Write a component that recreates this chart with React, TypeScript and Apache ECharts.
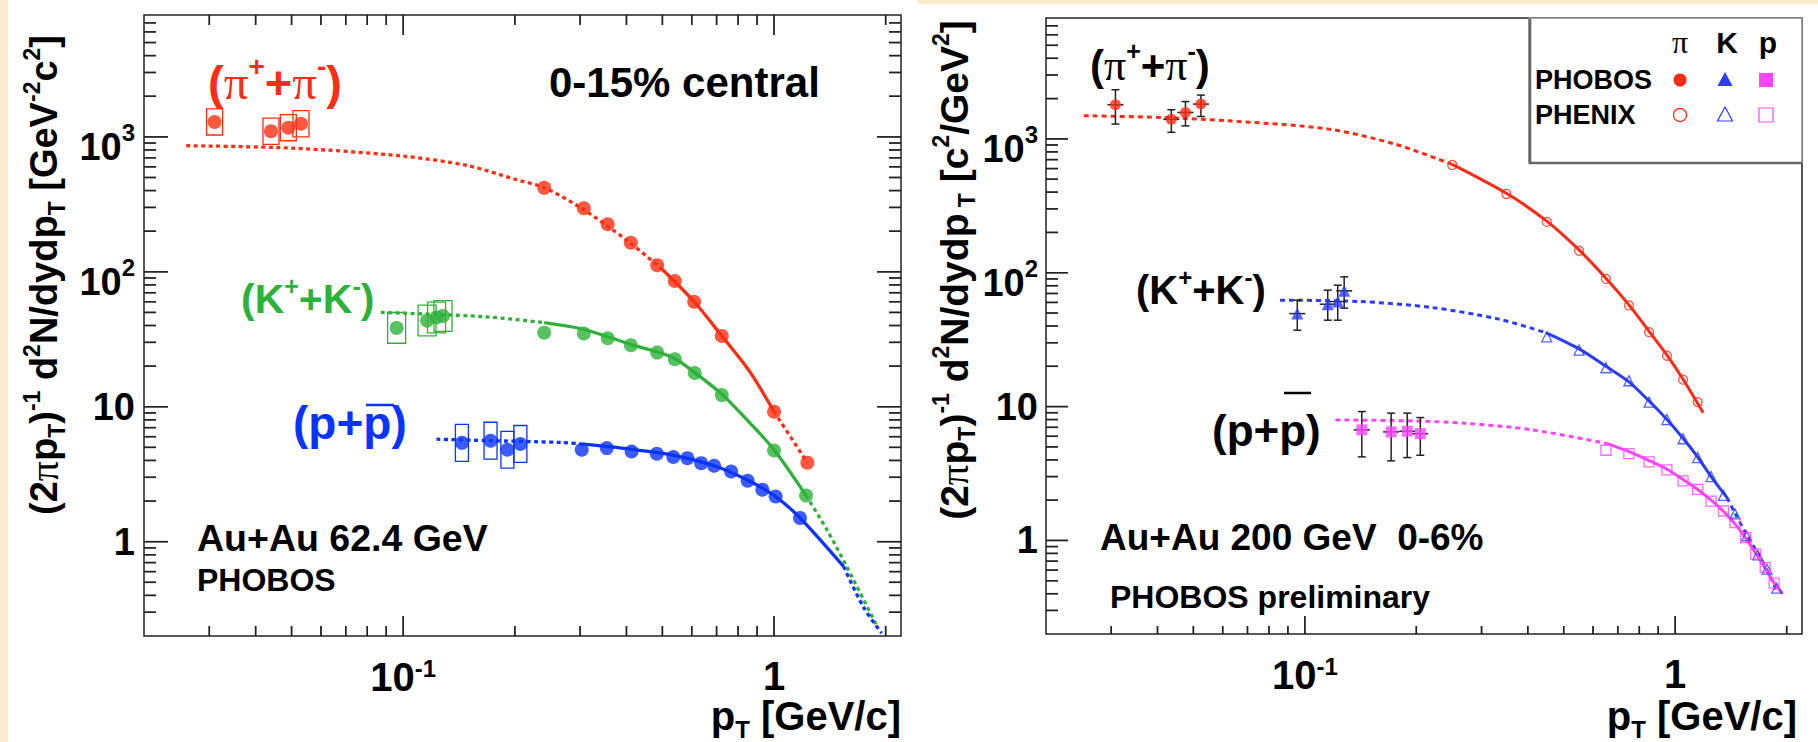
import React, { useEffect, useRef } from "react";
import * as echarts from "echarts";

const FONT = "'Liberation Sans', Arial, Helvetica, sans-serif";
const SERIF = "'Liberation Serif', 'Times New Roman', serif";

// ---------- axis ranges (both panels) ----------
const X_MIN = 0.02;
const X_MAX = 2.2;
const Y_MIN = 0.2;
const Y_MAX = 8000;

// ---------- LEFT PANEL: PHOBOS Au+Au 62.4 GeV, 0-15% central ----------
const piLowX = [0.031, 0.044, 0.049, 0.053];
const piLowY = [1290, 1100, 1170, 1250];
const piLowSys = [0.25, 0.25, 0.25, 0.25];
const kLowX = [0.096, 0.116, 0.123, 0.128];
const kLowY = [38.4, 43.5, 45.9, 47.1];
const kLowSys = [0.3, 0.3, 0.3, 0.3];
const pLowX = [0.144, 0.172, 0.191, 0.207];
const pLowY = [5.4, 5.6, 4.8, 5.3];
const pLowSys = [0.37, 0.37, 0.37, 0.37];

const piHiX = [0.24, 0.307, 0.356, 0.411, 0.484, 0.54, 0.609, 0.723, 1.0, 1.23];
const piHiY = [419, 296, 225, 164, 112, 85.5, 60, 33.5, 9.2, 3.85];
const kHiX = [0.24, 0.307, 0.356, 0.411, 0.484, 0.54, 0.611, 0.723, 1.0, 1.22];
const kHiY = [35.4, 34.9, 32.2, 28.6, 25.2, 22.5, 17.8, 12.2, 4.74, 2.2];
const pHiX = [0.303, 0.354, 0.413, 0.483, 0.535, 0.584, 0.636, 0.689, 0.766, 0.849, 0.93, 1.01, 1.175];
const pHiY = [4.8, 4.94, 4.66, 4.48, 4.24, 4.16, 3.82, 3.65, 3.31, 2.83, 2.43, 2.16, 1.5];

// fitted curves
const piFitL_dot1 = [[0.026, 860], [0.05, 825], [0.1, 720], [0.15, 610], [0.2, 485], [0.24, 420], [0.3, 300], [0.4, 172], [0.5, 104]];
const piFitL_solid = [[0.5, 104], [0.609, 60], [0.723, 33.5], [0.86, 18.2], [1.0, 9.2]];
const piFitL_dot2 = [[1.0, 9.2], [1.23, 3.85]];
const kFitL_dot1 = [[0.087, 50], [0.165, 46.5], [0.24, 42]];
const kFitL_solid = [[0.24, 42], [0.3, 38], [0.356, 33], [0.41, 29], [0.484, 25.5], [0.54, 22.8], [0.61, 18], [0.723, 12.4], [0.86, 7.6], [1.0, 4.8], [1.22, 2.2]];
const kFitL_dot2 = [[1.22, 2.2], [1.39, 1.22], [1.57, 0.655], [1.89, 0.24]];
const pFitL_dot1 = [[0.123, 5.75], [0.165, 5.62], [0.27, 5.43], [0.3, 5.3]];
const pFitL_solid = [[0.3, 5.3], [0.41, 4.85], [0.54, 4.35], [0.69, 3.65], [0.85, 2.85], [1.01, 2.16], [1.175, 1.5], [1.54, 0.655]];
const pFitL_dot2 = [[1.54, 0.655], [1.74, 0.33], [1.95, 0.21]];

// ---------- RIGHT PANEL: Au+Au 200 GeV, 0-6% ----------
const piPhobosX = [0.0308, 0.0436, 0.0476, 0.0524];
const piPhobosY = [1800, 1400, 1575, 1820];
const piPhobosLo = [1290, 1120, 1250, 1470];
const piPhobosHi = [2330, 1650, 1900, 2125];
const kPhobosX = [0.0954, 0.1153, 0.1227, 0.1277];
const kPhobosY = [49.5, 58.2, 60.9, 73.2];
const kPhobosLo = [37.2, 44.2, 44.2, 54.4];
const kPhobosHi = [62.4, 74.1, 80.7, 93.2];
const pPhobosX = [0.1425, 0.171, 0.189, 0.205];
const pPhobosY = [6.7, 6.47, 6.55, 6.28];
const pPhobosLo = [4.21, 3.93, 4.16, 4.33];
const pPhobosHi = [9.18, 8.93, 8.93, 8.28];

const piPhenixX = [0.25, 0.35, 0.45, 0.55, 0.65, 0.75, 0.85, 0.95, 1.05, 1.15];
const piPhenixY = [638, 388, 240, 146, 90, 57, 36, 24, 15.9, 10.8];
const kPhenixX = [0.45, 0.55, 0.65, 0.75, 0.85, 0.95, 1.05, 1.15, 1.25, 1.35, 1.45, 1.56, 1.67, 1.77, 1.88];
const kPhenixY = [33.2, 26.4, 19.5, 15.6, 10.8, 8.0, 5.75, 4.16, 3.0, 2.17, 1.58, 1.08, 0.78, 0.61, 0.44];
const pPhenixX = [0.65, 0.75, 0.85, 0.95, 1.05, 1.15, 1.25, 1.35, 1.45, 1.55, 1.65, 1.75, 1.85];
const pPhenixY = [4.72, 4.46, 3.86, 3.37, 2.79, 2.41, 1.97, 1.66, 1.36, 1.05, 0.79, 0.63, 0.48];

const piFitR_dot = [[0.0253, 1490], [0.041, 1445], [0.062, 1365], [0.116, 1183], [0.175, 914], [0.25, 645]];
const piFitR_solid = [[0.25, 645], [0.35, 392], [0.45, 243], [0.55, 148], [0.65, 91], [0.75, 57.5], [0.85, 36.5], [0.95, 24.2], [1.05, 16], [1.19, 9.0]];
const kFitR_dot1 = [[0.0857, 62.4], [0.14, 61], [0.22, 55], [0.334, 45], [0.447, 35.7]];
const kFitR_solid = [[0.447, 35.7], [0.55, 27], [0.65, 20], [0.75, 15.3], [0.85, 11], [0.95, 8.0], [1.05, 5.8], [1.15, 4.2], [1.25, 3.0], [1.38, 2.09]];
const kFitR_dot2 = [[1.38, 2.09], [1.45, 1.6], [1.56, 1.1], [1.68, 0.78], [1.77, 0.6], [1.88, 0.42]];
const pFitR_dot = [[0.121, 7.95], [0.2, 7.8], [0.271, 7.5], [0.411, 6.7], [0.656, 5.29]];
const pFitR_solid = [[0.656, 5.29], [0.75, 4.6], [0.85, 3.95], [0.95, 3.4], [1.05, 2.85], [1.15, 2.4], [1.25, 2.0], [1.35, 1.65], [1.45, 1.33], [1.55, 1.04], [1.65, 0.8], [1.75, 0.62], [1.85, 0.48], [1.95, 0.4]];

// ---------- colours ----------
const RED_L = "#FF2E12";
const GREEN_L = "#2EB13A";
const BLUE_L = "#0A33FF";
const RED_R = "#FF2A14";
const BLUE_R = "#2B3CF5";
const MAG_R = "#FF44FF";
const CREAM = "#FBE9CC";
const AXIS = "#222";

// ---------- tick values (ROOT style: decades + 2..9 minors) ----------
const MANTISSAS = [1, 2, 3, 4, 5, 6, 7, 8, 9];
const X_DECADES = [0.01, 0.1, 1];
const Y_DECADES = [0.1, 1, 10, 100, 1000];
function tickList(decades: number[], min: number, max: number, major: boolean) {
  const out: number[] = [];
  decades.forEach((d) => {
    MANTISSAS.forEach((m) => {
      if ((m === 1) !== major) return;
      const v = Math.round(m * d * 1e6) / 1e6;
      if (v > min * 1.0001 && v < max * 0.9999) out.push(v);
    });
  });
  return out;
}
const X_MAJOR = tickList(X_DECADES, X_MIN, X_MAX, true);
const X_MINOR = tickList(X_DECADES, X_MIN, X_MAX, false);
const Y_MAJOR = tickList(Y_DECADES, Y_MIN, Y_MAX, true);
const Y_MINOR = tickList(Y_DECADES, Y_MIN, Y_MAX, false);

// ---------- grid rectangles ----------
const GRIDS = [
  { left: 144, top: 15, width: 757, height: 621 },
  { left: 1046, top: 18, width: 756, height: 616 },
];

// ---------- helpers ----------
const zip = (xs: number[], ys: number[]) => xs.map((x, i) => [x, ys[i]]);

function lineS(gi: number, data: number[][], color: string, dotted: boolean, width = 3.3, dash = [4, 3.5]) {
  return {
    type: "line",
    xAxisIndex: gi,
    yAxisIndex: gi,
    data,
    showSymbol: false,
    symbol: "none",
    smooth: 0.3,
    silent: true,
    z: 2,
    lineStyle: { color, width, type: dotted ? dash : "solid", cap: "butt" },
  };
}

function scat(gi: number, xs: number[], ys: number[], symbol: string, size: number, color: string, hollow = false) {
  return {
    type: "scatter",
    xAxisIndex: gi,
    yAxisIndex: gi,
    data: zip(xs, ys),
    symbol,
    symbolSize: size,
    silent: true,
    z: 5,
    itemStyle: hollow
      ? { color: "rgba(255,255,255,0)", borderColor: color, borderWidth: 1.3 }
      : { color },
  };
}

// tick marks: custom series, one item per tick, placed through the axis scales
// item = [x, y, major(1/0), side] ; side 0 bottom, 1 top, 2 left, 3 right
function tickSeries(gi: number, xLen: number[], yLen: number[], mirror: boolean) {
  const data: number[][] = [];
  X_MAJOR.forEach((v) => { data.push([v, Y_MIN, 1, 0]); if (mirror) data.push([v, Y_MAX, 1, 1]); });
  X_MINOR.forEach((v) => { data.push([v, Y_MIN, 0, 0]); if (mirror) data.push([v, Y_MAX, 0, 1]); });
  Y_MAJOR.forEach((v) => { data.push([X_MIN, v, 1, 2]); if (mirror) data.push([X_MAX, v, 1, 3]); });
  Y_MINOR.forEach((v) => { data.push([X_MIN, v, 0, 2]); if (mirror) data.push([X_MAX, v, 0, 3]); });
  return {
    type: "custom",
    xAxisIndex: gi,
    yAxisIndex: gi,
    silent: true,
    z: 4,
    data,
    renderItem: (params: any, api: any) => {
      const p = api.coord([api.value(0), api.value(1)]);
      const maj = api.value(2) === 1;
      const side = api.value(3);
      const st = { stroke: AXIS, lineWidth: 1.5 };
      let shape;
      if (side === 0) { const L = maj ? xLen[0] : xLen[1]; shape = { x1: p[0], y1: p[1], x2: p[0], y2: p[1] - L }; }
      else if (side === 1) { const L = maj ? xLen[0] : xLen[1]; shape = { x1: p[0], y1: p[1], x2: p[0], y2: p[1] + L }; }
      else if (side === 2) { const L = maj ? yLen[0] : yLen[1]; shape = { x1: p[0], y1: p[1], x2: p[0] + L, y2: p[1] }; }
      else { const L = maj ? yLen[0] : yLen[1]; shape = { x1: p[0], y1: p[1], x2: p[0] - L, y2: p[1] }; }
      return { type: "group", children: [{ type: "line", shape, style: st }] };
    },
  };
}

// same tick marks as thin rect symbols (second route, identical positions)
function tickMarks(gi: number, data: number[][], size: number[], offset: number[]) {
  return {
    type: "scatter",
    xAxisIndex: gi,
    yAxisIndex: gi,
    data,
    symbol: "rect",
    symbolSize: size,
    symbolOffset: offset,
    silent: true,
    z: 3,
    itemStyle: { color: AXIS },
  };
}

function tickSet(gi: number, xLen: number[], yLen: number[], mirror: boolean) {
  const w = 1.5;
  const out: any[] = [
    tickMarks(gi, X_MAJOR.map((v) => [v, Y_MIN]), [w, xLen[0]], [0, -xLen[0] / 2]),
    tickMarks(gi, X_MINOR.map((v) => [v, Y_MIN]), [w, xLen[1]], [0, -xLen[1] / 2]),
    tickMarks(gi, Y_MAJOR.map((v) => [X_MIN, v]), [yLen[0], w], [yLen[0] / 2, 0]),
    tickMarks(gi, Y_MINOR.map((v) => [X_MIN, v]), [yLen[1], w], [yLen[1] / 2, 0]),
  ];
  if (mirror) {
    out.push(
      tickMarks(gi, X_MAJOR.map((v) => [v, Y_MAX]), [w, xLen[0]], [0, xLen[0] / 2]),
      tickMarks(gi, X_MINOR.map((v) => [v, Y_MAX]), [w, xLen[1]], [0, xLen[1] / 2]),
      tickMarks(gi, Y_MAJOR.map((v) => [X_MAX, v]), [yLen[0], w], [-yLen[0] / 2, 0]),
      tickMarks(gi, Y_MINOR.map((v) => [X_MAX, v]), [yLen[1], w], [-yLen[1] / 2, 0])
    );
  }
  return out;
}

function boxSeries(gi: number, xs: number[], ys: number[], sys: number[], color: string, hw: number) {
  return {
    type: "custom",
    xAxisIndex: gi,
    yAxisIndex: gi,
    silent: true,
    z: 4,
    data: xs.map((x, i) => [x, ys[i], sys[i]]),
    renderItem: (params: any, api: any) => {
      const x = api.value(0);
      const y = api.value(1);
      const s = api.value(2);
      const pc = api.coord([x, y]);
      const pt = api.coord([x, y * (1 + s)]);
      const pb = api.coord([x, y / (1 + s)]);
      return {
        type: "rect",
        shape: { x: pc[0] - hw, y: pt[1], width: 2 * hw, height: pb[1] - pt[1] },
        style: { fill: "none", stroke: color, lineWidth: 1.3 },
      };
    },
  };
}

function errSeries(gi: number, xs: number[], ys: number[], lo: number[], hi: number[]) {
  return {
    type: "custom",
    xAxisIndex: gi,
    yAxisIndex: gi,
    silent: true,
    z: 4,
    data: xs.map((x, i) => [x, ys[i], lo[i], hi[i]]),
    renderItem: (params: any, api: any) => {
      const x = api.value(0);
      const pc = api.coord([x, api.value(1)]);
      const pl = api.coord([x, api.value(2)]);
      const ph = api.coord([x, api.value(3)]);
      const st = { stroke: "#222", lineWidth: 1.5 };
      const cap = 4;
      const hw = 8;
      return {
        type: "group",
        children: [
          { type: "line", shape: { x1: pc[0], y1: pl[1], x2: pc[0], y2: ph[1] }, style: st },
          { type: "line", shape: { x1: pc[0] - cap, y1: pl[1], x2: pc[0] + cap, y2: pl[1] }, style: st },
          { type: "line", shape: { x1: pc[0] - cap, y1: ph[1], x2: pc[0] + cap, y2: ph[1] }, style: st },
          { type: "line", shape: { x1: pc[0] - hw, y1: pc[1], x2: pc[0] + hw, y2: pc[1] }, style: st },
        ],
      };
    },
  };
}

function isPow10(v: number) {
  const l = Math.log10(v);
  return Math.abs(l - Math.round(l)) < 1e-6;
}

function powFmt(v: number) {
  if (!isPow10(v)) return "";
  const e = Math.round(Math.log10(v));
  if (e === 0) return "1";
  if (e === 1) return "10";
  return "{m|10}{sup|" + e + "}";
}

const axisLabelBase = { fontFamily: FONT, fontWeight: "bold", color: "#000" };

function xAx(gi: number) {
  return {
    type: "log",
    logBase: 10,
    gridIndex: gi,
    position: "bottom",
    min: X_MIN,
    max: X_MAX,
    axisLine: { show: false, onZero: false },
    axisTick: { show: false },
    splitLine: { show: false },
    axisLabel: {
      ...axisLabelBase,
      fontSize: 40,
      margin: 20,
      formatter: powFmt,
      rich: {
        m: { ...axisLabelBase, fontSize: 40, verticalAlign: "bottom", lineHeight: 41 },
        sup: { ...axisLabelBase, fontSize: 24, verticalAlign: "top", lineHeight: 24 },
      },
    },
  };
}

function yAx(gi: number, margin: number) {
  return {
    type: "log",
    logBase: 10,
    gridIndex: gi,
    position: "left",
    min: Y_MIN,
    max: Y_MAX,
    axisLine: { show: false, onZero: false },
    axisTick: { show: false },
    splitLine: { show: false },
    axisLabel: {
      ...axisLabelBase,
      fontSize: 38,
      margin,
      formatter: powFmt,
      rich: {
        m: { ...axisLabelBase, fontSize: 38, verticalAlign: "bottom", lineHeight: 58 },
        sup: { ...axisLabelBase, fontSize: 24, verticalAlign: "top", padding: [13, 0, 0, 0] },
      },
    },
  };
}

function richStyle(size: number, color: string) {
  const small = Math.round(size * 0.6);
  const base = { fontFamily: FONT, fontWeight: "bold", fill: color };
  return {
    n: { ...base, fontSize: size, lineHeight: Math.round(size * 1.25) },
    s: { ...base, fontSize: small, verticalAlign: "top" },
    b: { ...base, fontSize: small, verticalAlign: "bottom" },
    g: { fontFamily: SERIF, fontWeight: "normal", fontSize: Math.round(size * 1.05), fill: color },
  };
}

function txt(x: number, y: number, text: string, size: number, color: string, align = "left", rotation = 0) {
  return {
    type: "text",
    x,
    y,
    rotation,
    silent: true,
    z: 30,
    style: {
      text,
      rich: richStyle(size, color),
      fontFamily: FONT,
      fontWeight: "bold",
      fontSize: size,
      fill: color,
      align,
      textAlign: align,
      verticalAlign: "middle",
      textVerticalAlign: "middle",
    },
  };
}

function staticGraphics() {
  return [
    { type: "rect", shape: { x: 0, y: 0, width: 8, height: 742 }, style: { fill: CREAM }, z: 0, silent: true },
    { type: "rect", shape: { x: 918, y: 0, width: 900, height: 4 }, style: { fill: CREAM }, z: 0, silent: true },
    // left panel texts
    txt(208, 82, "{n|(}{g|π}{s|+}{n|+}{g|π}{s|-}{n|)}", 47, RED_L),
    txt(549, 82, "{n|0-15% central}", 42, "#000"),
    txt(241, 299, "{n|(K}{s|+}{n|+K}{s|-}{n|)}", 41, GREEN_L),
    txt(293, 423, "{n|(p+p)}", 46, BLUE_L),
    { type: "line", shape: { x1: 366, y1: 405, x2: 394, y2: 405 }, style: { stroke: BLUE_L, lineWidth: 2.5 }, z: 30, silent: true },
    txt(197, 538, "{n|Au+Au 62.4 GeV}", 37.5, "#000"),
    txt(197, 580, "{n|PHOBOS}", 32, "#000"),
    txt(44, 275, "{n|(2}{g|π}{n|p}{b|T}{n|)}{s|-1}{n| d}{s|2}{n|N/dydp}{b|T}{n| [GeV}{s|-2}{n|c}{s|2}{n|]}", 38, "#000", "center", Math.PI / 2),
    txt(901, 716, "{n|p}{b|T}{n| [GeV/c]}", 40, "#000", "right"),
    // right panel texts
    txt(1090, 65, "{n|(}{g|π}{s|+}{n|+}{g|π}{s|-}{n|)}", 42, "#000"),
    txt(1136, 290, "{n|(K}{s|+}{n|+K}{s|-}{n|)}", 40, "#000"),
    txt(1212, 430, "{n|(p+p)}", 44, "#000"),
    { type: "line", shape: { x1: 1284, y1: 393, x2: 1311, y2: 393 }, style: { stroke: "#000", lineWidth: 2.5 }, z: 30, silent: true },
    txt(1100, 537, "{n|Au+Au 200 GeV  0-6%}", 37, "#000"),
    txt(1110, 597, "{n|PHOBOS preliminary}", 32, "#000"),
    txt(954, 270, "{n|(2}{g|π}{n|p}{b|T}{n|)}{s|-1}{n| d}{s|2}{n|N/dydp}{b| T}{n| [c}{s|2}{n|/GeV}{s|2}{n|]}", 39, "#000", "center", Math.PI / 2),
    txt(1797, 716, "{n|p}{b|T}{n| [GeV/c]}", 40, "#000", "right"),
    // legend box
    { type: "rect", shape: { x: 1529, y: 18, width: 273, height: 145 }, style: { fill: "#fff", stroke: "#888", lineWidth: 1.5 }, z: 20, silent: true },
    { type: "polyline", shape: { points: [[1530, 19], [1530, 163], [1802, 163]] }, style: { stroke: "#666", lineWidth: 2.5, fill: "none" }, z: 21, silent: true },
    txt(1680, 42, "{g|π}", 30, "#000", "center"),
    txt(1727, 42, "{n|K}", 30, "#000", "center"),
    txt(1768, 42, "{n|p}", 30, "#000", "center"),
    txt(1535, 80, "{n|PHOBOS}", 27, "#000"),
    txt(1535, 115, "{n|PHENIX}", 27, "#000"),
    { type: "circle", shape: { cx: 1680, cy: 80, r: 6.5 }, style: { fill: RED_R }, z: 30, silent: true },
    { type: "polygon", shape: { points: [[1725, 72], [1732.5, 86], [1717.5, 86]] }, style: { fill: BLUE_R }, z: 30, silent: true },
    { type: "rect", shape: { x: 1759, y: 73, width: 14, height: 14 }, style: { fill: MAG_R }, z: 30, silent: true },
    { type: "circle", shape: { cx: 1680, cy: 115, r: 6.5 }, style: { fill: "none", stroke: RED_R, lineWidth: 1.2 }, z: 30, silent: true },
    { type: "polygon", shape: { points: [[1725, 107], [1732.5, 121], [1717.5, 121]] }, style: { fill: "none", stroke: BLUE_R, lineWidth: 1.2 }, z: 30, silent: true },
    { type: "rect", shape: { x: 1759, y: 108, width: 14, height: 14 }, style: { fill: "none", stroke: MAG_R, lineWidth: 1.2 }, z: 30, silent: true },
  ];
}

function buildOption() {
  const dashR = [5, 4];
  const series: any[] = [
    // ----- left -----
    lineS(0, piFitL_dot1, RED_L, true),
    lineS(0, piFitL_solid, RED_L, false),
    lineS(0, piFitL_dot2, RED_L, true),
    lineS(0, kFitL_dot1, GREEN_L, true),
    lineS(0, kFitL_solid, GREEN_L, false),
    lineS(0, kFitL_dot2, GREEN_L, true),
    lineS(0, pFitL_dot1, BLUE_L, true),
    lineS(0, pFitL_solid, BLUE_L, false),
    lineS(0, pFitL_dot2, BLUE_L, true),
    boxSeries(0, piLowX, piLowY, piLowSys, RED_L, 8),
    boxSeries(0, kLowX, kLowY, kLowSys, GREEN_L, 9),
    boxSeries(0, pLowX, pLowY, pLowSys, BLUE_L, 6.5),
    scat(0, piLowX, piLowY, "circle", 14, RED_L),
    scat(0, piHiX, piHiY, "circle", 14, RED_L),
    scat(0, kLowX, kLowY, "circle", 14, GREEN_L),
    scat(0, kHiX, kHiY, "circle", 14, GREEN_L),
    scat(0, pLowX, pLowY, "circle", 14, BLUE_L),
    scat(0, pHiX, pHiY, "circle", 14, BLUE_L),
    // ----- right -----
    lineS(1, piFitR_dot, RED_R, true, 3, dashR),
    lineS(1, piFitR_solid, RED_R, false, 3),
    lineS(1, kFitR_dot1, BLUE_R, true, 3, dashR),
    lineS(1, kFitR_solid, BLUE_R, false, 3),
    lineS(1, kFitR_dot2, BLUE_R, true, 3, dashR),
    lineS(1, pFitR_dot, MAG_R, true, 3, dashR),
    lineS(1, pFitR_solid, MAG_R, false, 3),
    errSeries(1, piPhobosX, piPhobosY, piPhobosLo, piPhobosHi),
    errSeries(1, kPhobosX, kPhobosY, kPhobosLo, kPhobosHi),
    errSeries(1, pPhobosX, pPhobosY, pPhobosLo, pPhobosHi),
    scat(1, piPhobosX, piPhobosY, "circle", 11, RED_R),
    scat(1, kPhobosX, kPhobosY, "triangle", 12, BLUE_R),
    scat(1, pPhobosX, pPhobosY, "rect", 11, MAG_R),
    scat(1, piPhenixX, piPhenixY, "circle", 9, RED_R, true),
    scat(1, kPhenixX, kPhenixY, "triangle", 10, BLUE_R, true),
    scat(1, pPhenixX, pPhenixY, "rect", 10, MAG_R, true),
    // ----- tick marks (both routes, identical positions) -----
    tickSeries(0, [20, 10], [24, 12], true),
    tickSeries(1, [18, 8], [22, 12], false),
    ...tickSet(0, [20, 10], [24, 12], true),
    ...tickSet(1, [18, 8], [22, 12], false),
  ];

  return {
    animation: false,
    backgroundColor: "#fff",
    grid: GRIDS.map((g) => ({ ...g, show: true, borderColor: AXIS, borderWidth: 1.5, backgroundColor: "transparent" })),
    xAxis: [xAx(0), xAx(1)],
    yAxis: [yAx(0, 9), yAx(1, 8)],
    graphic: { elements: staticGraphics() },
    series,
  };
}

export default function App() {
  const ref = useRef<HTMLDivElement>(null);
  useEffect(() => {
    const chart = echarts.init(ref.current as HTMLDivElement, undefined, { renderer: "svg" });
    chart.setOption(buildOption() as any);
    return () => chart.dispose();
  }, []);
  return (
    <div
      ref={ref}
      style={{ position: "fixed", left: 0, top: 0, width: 1818, height: 742, background: "#fff" }}
    />
  );
}
